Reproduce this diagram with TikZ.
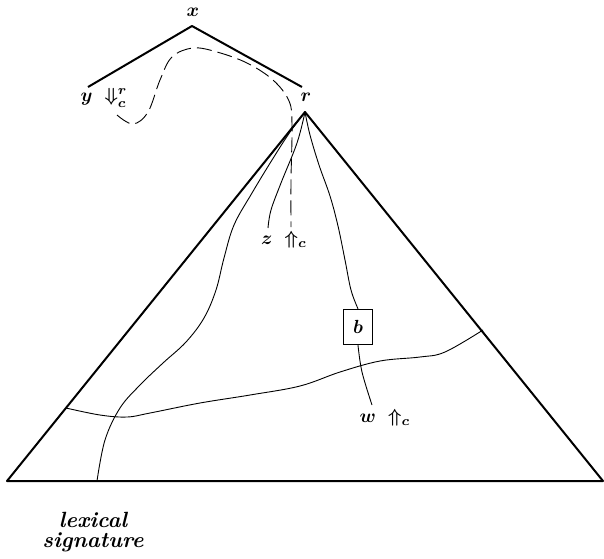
\documentclass[tikz,border=0pt]{standalone}
\usepackage{amsmath}
\usepackage{graphicx}
\newcommand{\biglbl}[1]{\scalebox{1.9}{\boldmath$#1$}}
\begin{document}
\begin{tikzpicture}[x=1pt,y=-1pt,
  lbl/.style={inner sep=0pt},
  thick line/.style={line width=2pt, line join=round},
  thin line/.style={line width=0.9pt},
  dashline/.style={line width=0.9pt, dash pattern=on 15pt off 6pt},
  boxnode/.style={draw, line width=1.4pt, minimum width=29pt, minimum height=35pt, inner sep=0pt}]
\useasboundingbox (0,0) rectangle (604,558);

% tree top
\node[lbl] (x) at (193,12) {\biglbl{x}};
\node[lbl] (y) at (104,98) {\biglbl{y\;\Downarrow^{r}_{c}}};
\node[lbl] (r) at (306,97) {\biglbl{r}};
\coordinate (xt) at (192,26);
\coordinate (yt) at (88,87);
\coordinate (rt) at (302,87);
\draw[thick line] (yt) -- (xt) -- (rt);

% triangle
\coordinate (apex) at (305,112);
\coordinate (bl) at (7,481);
\coordinate (br) at (603,481);
\draw[thick line] (bl) -- (apex) -- (br) -- cycle;

% labels inside
\node[lbl] (z) at (284,240) {\biglbl{z\;\Uparrow_{c}}};
\node[boxnode] (b) at (358,327) {\biglbl{b}};
\node[lbl] (w) at (385,418) {\biglbl{w\;\Uparrow_{c}}};
\node[inner sep=0pt, align=center, font=\fontsize{22}{20}\selectfont\bfseries\itshape] (lex) at (93,532) {lexical\\signature};

% dashed path
\draw[dashline] plot[smooth, tension=0.6] coordinates {(117,115) (133,124) (148,112) (160,80) (172,57) (193,48) (217,52) (247,63) (273,80) (289,101) (292,125) (291,180) (291,227)};

% solid curves from apex
\draw[thin line] plot[smooth, tension=0.6] coordinates {(apex) (290,132) (272,160) (252,193) (234,225) (224,258) (216,290) (204,318) (186,342) (163,363) (140,385) (120,408) (105,440) (97,481)};
\draw[thin line] plot[smooth, tension=0.6] coordinates {(apex) (297,143) (281,183) (271,210) (268,228)};
\draw[thin line] plot[smooth, tension=0.6] coordinates {(apex) (310,135) (319,165) (330,196) (338,226) (345,260) (351,290) (b.north)};
\draw[thin line] plot[smooth, tension=0.6] coordinates {(b.south) (362,372) (372,405)};

% horizontal wavy curve
\draw[thin line] plot[smooth, tension=0.6] coordinates {(66,408) (100,415) (127,417) (150,413) (200,403) (250,395) (300,386) (340,372) (380,361) (420,357) (445,352) (483,330)};
\end{tikzpicture}
\end{document}
